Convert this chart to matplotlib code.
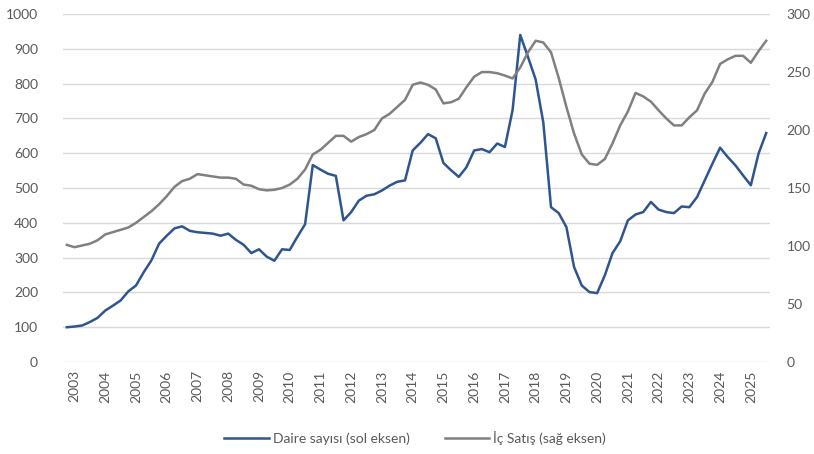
import numpy as np
import matplotlib.pyplot as plt

plt.rcParams['font.family'] = ['Lato', 'DejaVu Sans']

# quarterly data, 2003 ... 2025
daire = [100, 102, 105, 115, 127, 148, 162, 177, 203, 220, 258, 292,
         340, 363, 384, 390, 377, 373, 371, 369, 363, 369, 351, 337,
         313, 324, 303, 291, 324, 322, 360, 396, 566, 553, 541, 535,
         407, 431, 464, 478, 482, 493, 507, 518, 522, 608, 630, 655,
         643, 572, 551, 532, 560, 608, 612, 603, 628, 618, 724, 940,
         877, 812, 688, 445, 428, 388, 273, 220, 201, 198, 249, 313,
         347, 407, 424, 431, 460, 438, 431, 428, 447, 445, 474, 522,
         570, 616, 589, 565, 536, 508, 599, 658]
ic_satis = [101, 99, 100.5, 102, 105, 110, 112, 114, 116, 120, 125, 130,
            136, 143, 151, 156, 158, 162, 161, 160, 159, 159, 158, 153,
            152, 149, 148, 148.5, 150, 153, 158, 166, 179, 183, 189, 195,
            195, 190, 194, 196.5, 200, 210, 214, 220, 226, 239, 241, 239,
            235, 223, 224, 227, 237, 246, 250, 250, 249, 247, 244.5, 254,
            267, 277, 275.5, 267, 245, 220, 197, 179, 171, 170, 175, 188.5,
            204, 216, 232, 229, 224.5, 217, 210, 204, 204, 211, 217, 231.5,
            241.5, 257, 261, 264, 264, 258, 268, 277]
years = [str(y) for y in range(2003, 2026)]

x = np.arange(len(daire))
txt = '#595959'

fig = plt.figure(figsize=(8.14, 4.54), dpi=100)
ax = fig.add_axes([0.0774, 0.2026, 0.8686, 0.7664])
ax2 = ax.twinx()

ax.plot(x, daire, color='#2E5590', lw=1.8, label='Daire sayısı (sol eksen)')
ax2.plot(x, ic_satis, color='#808080', lw=1.8, label='İç Satış (sağ eksen)')

ax.set_xlim(-0.5, len(daire) - 0.5)
ax.set_ylim(0, 1000)
ax2.set_ylim(0, 300)
ax.set_yticks(range(0, 1001, 100))
ax2.set_yticks(range(0, 301, 50))
ax.set_xticks(np.arange(1, len(daire), 4)[:len(years)])
ax.set_xticklabels(years, rotation=90)

ax.grid(axis='y', color='#d9d9d9', lw=1)
ax.set_axisbelow(True)
for a in (ax, ax2):
    for s in a.spines.values():
        s.set_visible(False)
    a.tick_params(length=0, labelsize=10, colors=txt)
ax.tick_params(axis='y', pad=18)
ax.tick_params(axis='x', pad=6)
ax2.tick_params(axis='y', pad=12)

h1, l1 = ax.get_legend_handles_labels()
h2, l2 = ax2.get_legend_handles_labels()
fig.legend(h1 + h2, l1 + l2, loc='center', bbox_to_anchor=(0.51, 0.035),
           ncol=2, frameon=False, fontsize=10, labelcolor=txt,
           handlelength=3.2, columnspacing=2.5, handletextpad=0.3)

fig.savefig('out.png', dpi=100)
